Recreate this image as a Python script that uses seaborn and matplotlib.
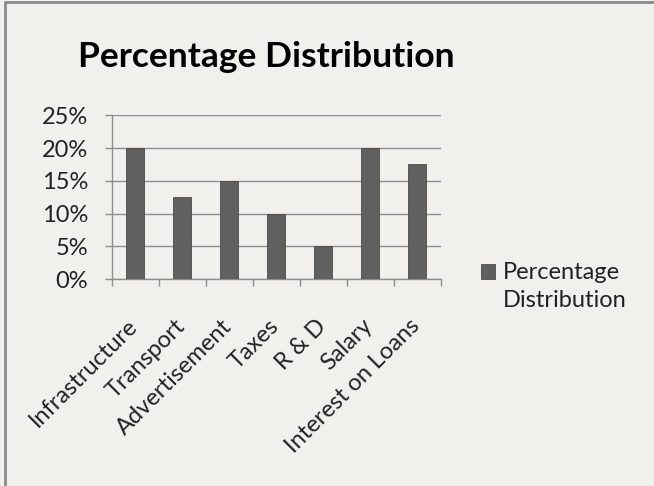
import matplotlib
matplotlib.use("Agg")
import matplotlib.pyplot as plt
import matplotlib.transforms as mtransforms
import seaborn as sns
import pandas as pd
from matplotlib.ticker import FuncFormatter, MultipleLocator

categories = ["Infrastructure", "Transport", "Advertisement", "Taxes", "R & D", "Salary", "Interest on Loans"]
values = [20, 12.5, 15, 10, 5, 20, 17.5]
series_name = "Percentage Distribution"
title = "Percentage Distribution"

df = pd.DataFrame({"category": categories, "value": values, "series": series_name})

sns.set_theme(style="white")
plt.rcParams["font.family"] = ["Lato", "DejaVu Sans"]

bg = "#F1F0EC"
fs = 17
fig = plt.figure(figsize=(6.54, 4.86), dpi=100, facecolor=bg)
ax = fig.add_axes([0.1708, 0.4253, 0.6739 - 0.1708, 0.7628 - 0.4253])
ax.set_facecolor(bg)

sns.barplot(data=df, x="category", y="value", hue="series", palette=["#606060"],
            width=0.39, edgecolor="#4a4a4a", linewidth=0.6, ax=ax, zorder=3)

ax.set_ylim(0, 25)
ax.set_xlim(-0.5, len(categories) - 0.5)
ax.yaxis.set_major_locator(MultipleLocator(5))
ax.yaxis.set_major_formatter(FuncFormatter(lambda v, p: f"{int(v)}%"))
ax.grid(axis="y", color="#8e8e8e", linewidth=1.0, zorder=0)
ax.set_axisbelow(True)
for s in ["top", "right"]:
    ax.spines[s].set_visible(False)
for s in ["left", "bottom"]:
    ax.spines[s].set_color("#8e8e8e")
    ax.spines[s].set_linewidth(1.0)

ax.set_xlabel("")
ax.set_ylabel("")
ax.tick_params(axis="y", which="both", left=True, length=5, width=1, color="#8e8e8e",
               labelsize=fs, labelcolor="#222222", pad=12)
ax.set_xticks([i for i in range(len(categories))])
ax.set_xticklabels(categories, rotation=45, ha="right", rotation_mode="anchor",
                   fontsize=fs, color="#222222")
ax.tick_params(axis="x", which="major", bottom=False, pad=20)
ax.set_xticks([i - 0.5 for i in range(len(categories) + 1)], minor=True)
ax.tick_params(axis="x", which="minor", bottom=True, length=5, width=1, color="#8e8e8e")
shift = mtransforms.ScaledTranslation(-6 / 72, 0, fig.dpi_scale_trans)
for lbl in ax.get_xticklabels():
    lbl.set_transform(lbl.get_transform() + shift)

leg = ax.legend(handles=ax.get_legend_handles_labels()[0],
                labels=["Percentage\nDistribution"],
                loc="center left", bbox_to_anchor=(1.085, -0.044), frameon=False,
                borderpad=0.0, fontsize=fs, handlelength=0.6, handleheight=0.6,
                handletextpad=0.35, labelcolor="#222222")
for t in leg.get_texts():
    t.set_linespacing(1.4)
h = leg.legend_handles[0]
h.set_y(h.get_y() + 11)

fig.text(0.407, 0.882, title, ha="center", va="center", fontsize=25.5, fontweight="bold",
         color="#000000")

fig.add_artist(plt.Line2D([0.008, 0.008], [0, 0.995], transform=fig.transFigure,
                          color="#8a8a8a", linewidth=2))
fig.add_artist(plt.Line2D([0.008, 1], [0.995, 0.995], transform=fig.transFigure,
                          color="#8a8a8a", linewidth=2))

fig.savefig("out.png", dpi=100, facecolor=bg)
